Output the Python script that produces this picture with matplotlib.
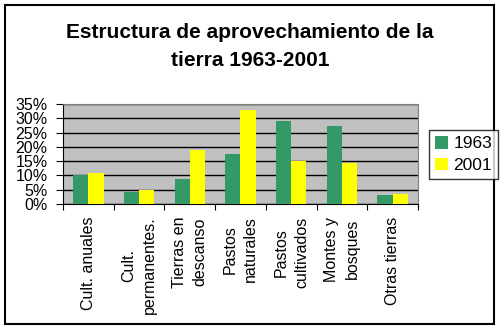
import matplotlib.pyplot as plt
import numpy as np
from matplotlib.patches import Rectangle

plt.rcParams['font.family'] = ['Liberation Sans', 'DejaVu Sans']

categorias = ["Cult. anuales", "Cult.\npermanentes.", "Tierras en\ndescanso",
              "Pastos\nnaturales", "Pastos\ncultivados", "Montes y\nbosques",
              "Otras tierras"]
v1963 = [10.1, 4.3, 8.8, 17.5, 29.0, 27.3, 3.2]
v2001 = [10.8, 5.0, 18.9, 32.9, 15.0, 14.4, 3.5]

fig = plt.figure(figsize=(5, 3.29), dpi=100)
ax = fig.add_axes([63/500, 1-204/329, 355/500, 100/329])

x = np.arange(len(categorias))
w = 0.3
ax.bar(x - w/2, v1963, w, color="#339966", label="1963", zorder=3)
ax.bar(x + w/2, v2001, w, color="#FFFF00", label="2001", zorder=3)

ax.set_facecolor("#C0C0C0")
ax.set_xlim(-0.5, len(categorias) - 0.5)
ax.set_ylim(0, 35)
ax.set_yticks(np.arange(0, 36, 5))
ax.set_yticklabels([f"{t}%" for t in range(0, 36, 5)], fontsize=11.5)
ax.yaxis.grid(True, color="black", linewidth=1, zorder=1)
ax.set_axisbelow(True)

ax.set_xticks(np.arange(-0.5, len(categorias), 1))
ax.set_xticklabels([])
ax.set_xticks(x, minor=True)
ax.set_xticklabels(categorias, minor=True, rotation=90, fontsize=11.5,
                   ha="center", va="top", multialignment="center",
                   linespacing=1.45)
ax.tick_params(axis="x", which="minor", length=0, pad=9)
ax.tick_params(axis="x", which="major", length=4, color="black")
ax.tick_params(axis="y", length=5, pad=6)

for s in ["top", "right"]:
    ax.spines[s].set_color("#808080")
for s in ["left", "bottom"]:
    ax.spines[s].set_color("black")

leg = fig.legend(loc="upper left", bbox_to_anchor=(429/500, 1-130/329),
                 borderaxespad=0, fontsize=12.5, frameon=True, fancybox=False,
                 edgecolor="black", handlelength=0.75, handleheight=0.75,
                 handletextpad=0.3, borderpad=0.35, labelspacing=0.35)
leg.get_frame().set_linewidth(1)

fig.text(0.5, 1-32/329, "Estructura de aprovechamiento de la",
         ha="center", va="center", fontsize=15, fontweight="bold")
fig.text(0.5, 1-60/329, "tierra 1963-2001",
         ha="center", va="center", fontsize=15, fontweight="bold")

fig.patches.append(Rectangle((5/500, 5/329), 489/500, 319/329, transform=fig.transFigure,
                             fill=False, edgecolor="black", linewidth=1.5))

fig.savefig("out.png", dpi=100)
